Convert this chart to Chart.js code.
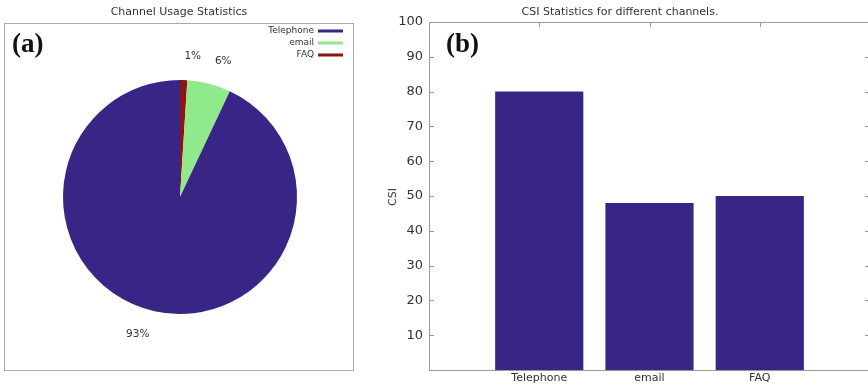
<!DOCTYPE html>
<html>
<head>
<meta charset="utf-8">
<script src="https://cdn.jsdelivr.net/npm/chart.js@4/dist/chart.umd.min.js"></script>
<style>
  html, body { margin: 0; padding: 0; background: #fff; overflow: hidden; width: 868px; height: 386px; }
  #pie { position: absolute; left: 0; top: 0; }
  #bar { position: absolute; left: 360px; top: 0; }
  .tag { position: absolute; font-family: "Liberation Serif", "DejaVu Serif", serif; font-weight: bold; font-size: 27px; color: #111; }
</style>
</head>
<body>
<canvas id="pie" width="360" height="386"></canvas>
<canvas id="bar" width="512" height="386"></canvas>
<div class="tag" style="left:12px; top:28px;">(a)</div>
<div class="tag" style="left:446px; top:28px;">(b)</div>
<script>
// channel usage (pie)
const channels = ["Telephone", "email", "FAQ"];
const usageShare = [93, 6, 1];
const channelColors = ["#382585", "#90e98a", "#8b1414"];

// CSI per channel (bars)
const csiValues = [80, 48, 50];
const csiTicks = [10, 20, 30, 40, 50, 60, 70, 80, 90, 100];

const textColor = "#333";
const axisGrey = "#999";

// pie is drawn clockwise from the top: FAQ, email, then Telephone
const pieOrder = [2, 1, 0];

const pieDeco = {
  id: "pieDeco",
  afterDraw(chart) {
    const ctx = chart.ctx;
    ctx.save();
    // frame
    ctx.strokeStyle = "#aaa";
    ctx.lineWidth = 1;
    ctx.strokeRect(4.5, 23.5, 349, 347);
    // title
    ctx.fillStyle = textColor;
    ctx.font = "11px 'DejaVu Sans'";
    ctx.textAlign = "center";
    ctx.textBaseline = "middle";
    ctx.fillText("Channel Usage Statistics", 179, 12);
    // legend
    ctx.font = "9px 'DejaVu Sans'";
    ctx.textAlign = "right";
    channels.forEach((name, i) => {
      const y = 31 + i * 12;
      ctx.fillStyle = textColor;
      ctx.fillText(name, 314, y);
      ctx.strokeStyle = channelColors[i];
      ctx.lineWidth = 3;
      ctx.beginPath();
      ctx.moveTo(318, y);
      ctx.lineTo(343, y);
      ctx.stroke();
    });
    // percentage labels outside the slices
    ctx.font = "10.5px 'DejaVu Sans'";
    ctx.fillStyle = textColor;
    const meta = chart.getDatasetMeta(0);
    meta.data.forEach((arc, i) => {
      const mid = (arc.startAngle + arc.endAngle) / 2;
      const r = arc.outerRadius * 1.2;
      const x = arc.x + Math.cos(mid) * r;
      const y = arc.y + Math.sin(mid) * r;
      ctx.textAlign = x >= arc.x ? "left" : "right";
      ctx.fillText(chart.data.datasets[0].data[i] + "%", x, y);
    });
    ctx.restore();
  }
};

new Chart(document.getElementById("pie"), {
  type: "pie",
  data: {
    labels: pieOrder.map(i => channels[i]),
    datasets: [{
      data: pieOrder.map(i => usageShare[i]),
      backgroundColor: pieOrder.map(i => channelColors[i]),
      borderWidth: 0
    }]
  },
  options: {
    responsive: false,
    animation: false,
    layout: { padding: { left: 63, right: 63, top: 80, bottom: 72 } },
    plugins: { legend: { display: false }, tooltip: { enabled: false } }
  },
  plugins: [pieDeco]
});

// inward tick marks, top/right frame, title and axis name
const barDeco = {
  id: "barDeco",
  afterDraw(chart) {
    const ctx = chart.ctx;
    const a = chart.chartArea;
    const xs = chart.scales.x, ys = chart.scales.y;
    ctx.save();
    ctx.strokeStyle = axisGrey;
    ctx.lineWidth = 1;
    ctx.beginPath();
    ctx.moveTo(a.left, a.top + 0.5);
    ctx.lineTo(a.right, a.top + 0.5);
    ctx.moveTo(a.right - 0.5, a.top);
    ctx.lineTo(a.right - 0.5, a.bottom);
    csiTicks.forEach(v => {
      const y = Math.round(ys.getPixelForValue(v)) + 0.5;
      ctx.moveTo(a.left, y); ctx.lineTo(a.left + 5, y);
      ctx.moveTo(a.right, y); ctx.lineTo(a.right - 5, y);
    });
    channels.forEach((c, i) => {
      const x = Math.round(xs.getPixelForValue(i + 1)) + 0.5;
      ctx.moveTo(x, a.top); ctx.lineTo(x, a.top + 5);
    });
    ctx.stroke();
    ctx.fillStyle = textColor;
    ctx.font = "11px 'DejaVu Sans'";
    ctx.textAlign = "center";
    ctx.textBaseline = "middle";
    ctx.fillText("CSI Statistics for different channels.", 260, 12);
    ctx.translate(33, 197);
    ctx.rotate(-Math.PI / 2);
    ctx.fillText("CSI", 0, 0);
    ctx.restore();
  }
};

new Chart(document.getElementById("bar"), {
  type: "bar",
  data: {
    datasets: [{
      data: csiValues.map((v, i) => ({ x: i + 1, y: v })),
      backgroundColor: channelColors[0],
      borderWidth: 0,
      barPercentage: 0.8,
      categoryPercentage: 1
    }]
  },
  options: {
    responsive: false,
    animation: false,
    layout: { padding: { left: 0, right: 1, top: 22, bottom: 1 } },
    plugins: { legend: { display: false }, tooltip: { enabled: false } },
    scales: {
      x: {
        type: "linear",
        offset: false,
        min: 0,
        max: 4,
        afterFit: s => { s.height = 15; },
        grid: { display: false, drawTicks: false },
        border: { display: true, color: axisGrey },
        ticks: {
          stepSize: 1,
          autoSkip: false,
          maxRotation: 0,
          padding: 2,
          color: textColor,
          font: { family: "DejaVu Sans", size: 11 },
          callback: v => channels[v - 1] || ""
        }
      },
      y: {
        min: 0,
        max: 100,
        afterFit: s => { s.width = 69; },
        grid: { display: false, drawTicks: false },
        border: { display: true, color: axisGrey },
        afterBuildTicks: s => { s.ticks = csiTicks.map(v => ({ value: v })); },
        ticks: {
          padding: 6,
          color: textColor,
          font: { family: "DejaVu Sans", size: 13 }
        }
      }
    }
  },
  plugins: [barDeco]
});
</script>
</body>
</html>
